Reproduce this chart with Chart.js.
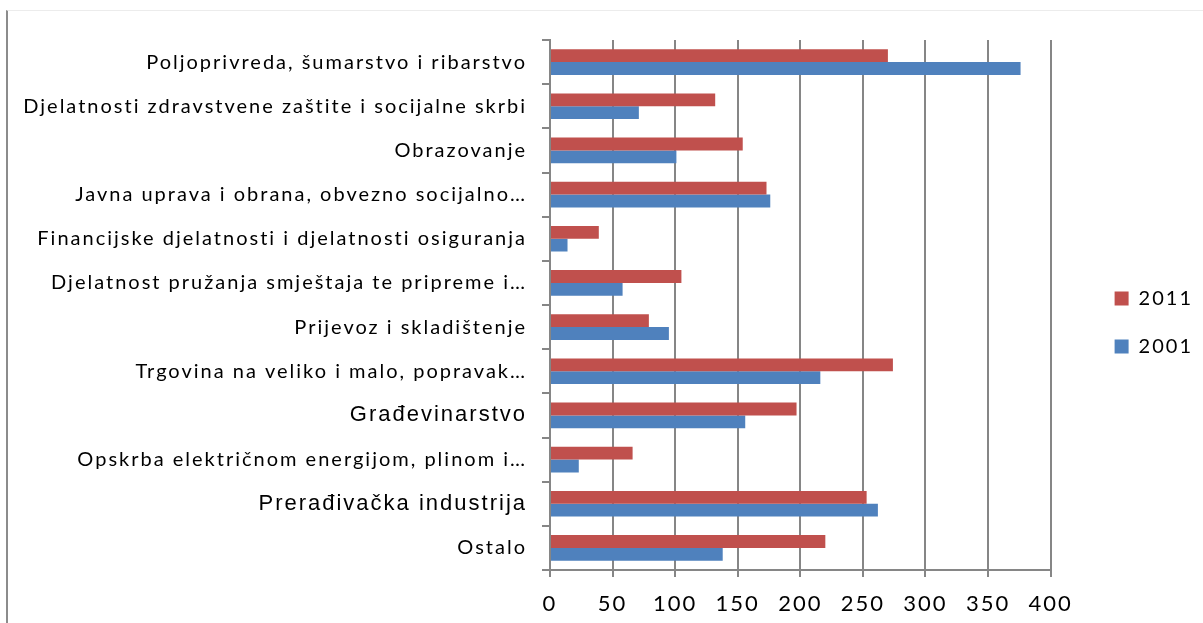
<!DOCTYPE html>
<html>
<head>
<meta charset="utf-8">
<script src="https://cdn.jsdelivr.net/npm/chart.js@4.4.0/dist/chart.umd.min.js"></script>
<style>
  html, body { margin: 0; padding: 0; background: #fff; }
  #frame { position: absolute; left: 6px; top: 10px; right: 0; bottom: 0; border-left: 2px solid #8c8c8c; border-top: 1px solid #ececec; }
  #wrap { position: absolute; left: 0; top: 0; width: 1203px; height: 623px; }
</style>
</head>
<body>
<div id="frame"></div>
<div id="wrap"><canvas id="canvasChart" width="1203" height="623"></canvas></div>
<script>
var categories = [
  'Poljoprivreda, šumarstvo i ribarstvo',
  'Djelatnosti zdravstvene zaštite i socijalne skrbi',
  'Obrazovanje',
  'Javna uprava i obrana, obvezno socijalno…',
  'Financijske djelatnosti i djelatnosti osiguranja',
  'Djelatnost pružanja smještaja te pripreme i…',
  'Prijevoz i skladištenje',
  'Trgovina na veliko i malo, popravak…',
  'Građevinarstvo',
  'Opskrba električnom energijom, plinom i…',
  'Prerađivačka industrija',
  'Ostalo'
];
var values2011 = [270, 132, 154, 173, 39, 105, 79, 274, 197, 66, 253, 220];
var values2001 = [376, 71, 101, 176, 14, 58, 95, 216, 156, 23, 262, 138];
var seriesNames = ['2011', '2001'];
var xMin = 0, xMax = 400, xStep = 50;

// these two labels came out in a different font in the original
var arialLabels = ['Građevinarstvo', 'Prerađivačka industrija'];

var axisGrey = '#868686';

// excel spreads its letters a bit
const textSpacing = {
  id: 'textSpacing',
  beforeDraw(chart) {
    chart.ctx.letterSpacing = '2px';
  }
};

// push the legend away from the plot without spreading its items
const legendPlace = {
  id: 'legendPlace',
  afterLayout(chart) {
    var lg = chart.legend;
    lg.left += 36; lg.right += 36;
    lg.top -= 6; lg.bottom -= 6;
  }
};

Chart.defaults.font.family = 'Lato';
Chart.defaults.color = '#000';

var canvas = document.getElementById('canvasChart');
var chart = new Chart(canvas, {
  type: 'bar',
  data: {
    labels: categories,
    datasets: [{
      label: seriesNames[0],
      data: values2011,
      backgroundColor: '#C0504D',
      categoryPercentage: 0.58,
      barPercentage: 1.0
    }, {
      label: seriesNames[1],
      data: values2001,
      backgroundColor: '#4F81BD',
      categoryPercentage: 0.58,
      barPercentage: 1.0
    }]
  },
  options: {
    indexAxis: 'y',
    responsive: false,
    animation: false,
    layout: { padding: { left: 10, top: 40, right: 44, bottom: 6 } },
    scales: {
      x: {
        min: xMin,
        max: xMax,
        afterFit: function (scale) { scale.height = 47; },
        ticks: { stepSize: xStep, padding: 14, font: { size: 22 } },
        grid: { color: axisGrey, lineWidth: 2, tickLength: 7 },
        border: { color: axisGrey, width: 2 }
      },
      y: {
        afterFit: function (scale) { scale.width = 540; },
        ticks: {
          padding: 15,
          font: function (ctx) {
            if (arialLabels.indexOf(categories[ctx.index]) >= 0) {
              return { family: 'Liberation Sans', size: 22 };
            }
            return { family: 'Lato', size: 20 };
          }
        },
        grid: { drawOnChartArea: false, color: axisGrey, lineWidth: 2, tickLength: 8 },
        border: { color: axisGrey, width: 2 }
      }
    },
    plugins: {
      legend: {
        position: 'right',
        labels: { boxWidth: 14, boxHeight: 14, padding: 28, font: { size: 20 } }
      },
      tooltip: { enabled: false }
    }
  },
  plugins: [textSpacing, legendPlace]
});
</script>
</body>
</html>
